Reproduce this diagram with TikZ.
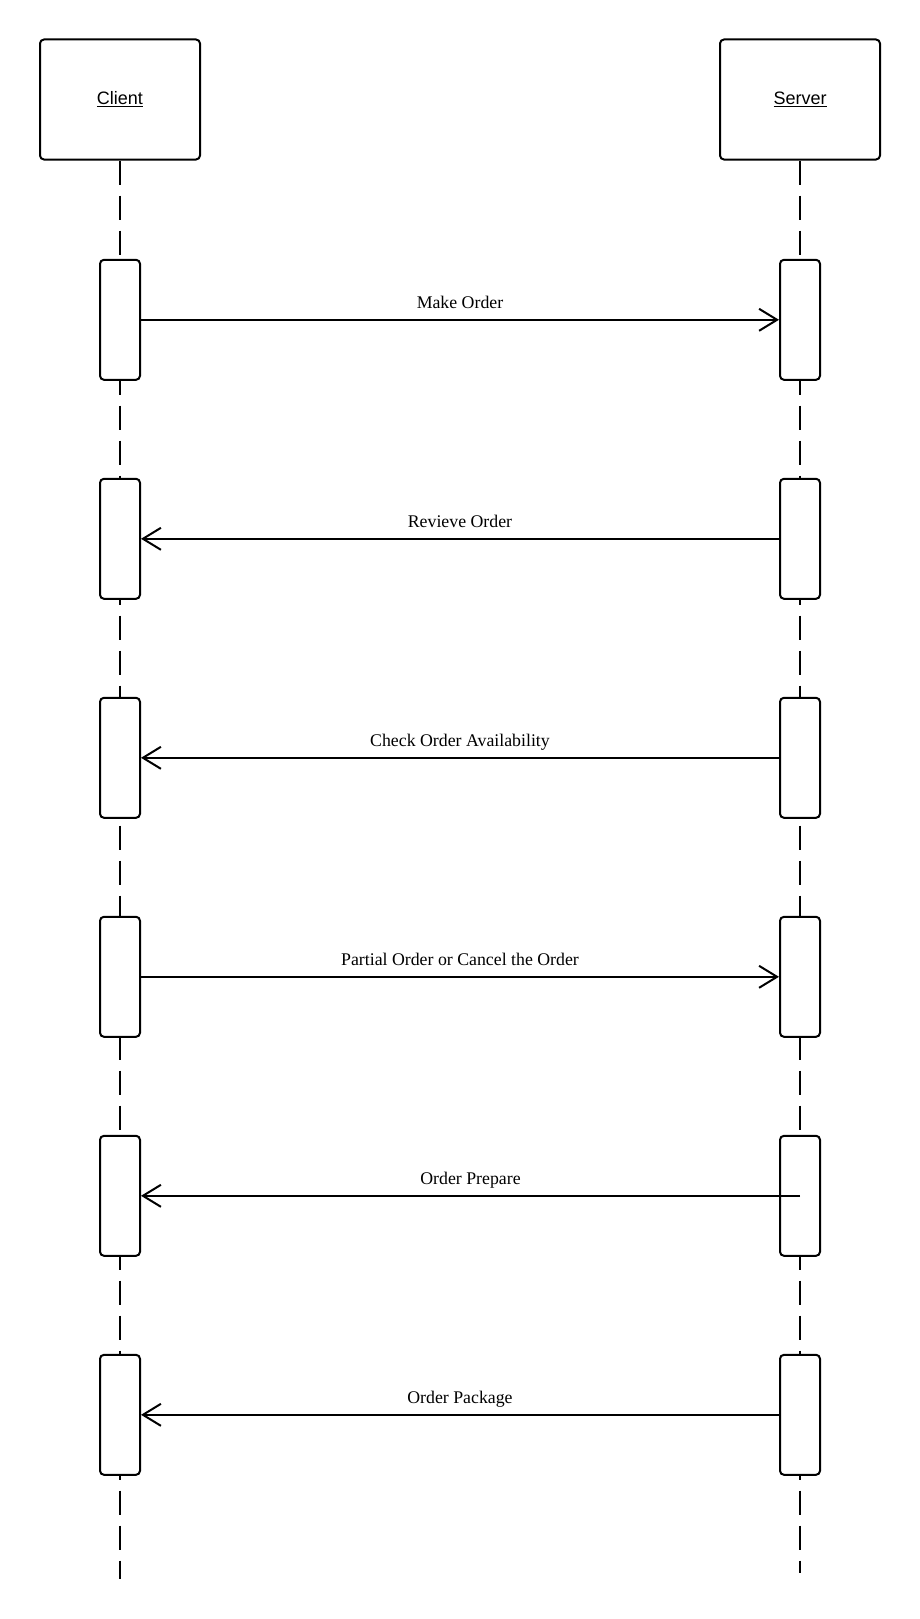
\documentclass[tikz,border=0pt]{standalone}
\usepackage{fontspec}
\setmainfont{Liberation Serif}
\newfontfamily\headfont{Liberation Sans}
\usetikzlibrary{arrows.meta}
\tikzset{
  actor/.style={draw, line width=2pt, rounded corners=4pt, fill=white,
    minimum width=160pt, minimum height=120pt, inner sep=0pt,
    font=\headfont\fontsize{18pt}{20pt}\selectfont},
  act/.style={draw, line width=2pt, rounded corners=4pt, fill=white,
    minimum width=40pt, minimum height=120pt, inner sep=0pt},
  lifeline/.style={line width=2pt, dash pattern=on 24pt off 11pt},
  msg/.style={line width=2pt, -{Straight Barb[length=18pt,width=22pt,line width=2pt]}},
  lbl/.style={midway, anchor=base, yshift=11pt, inner sep=0pt,
    font=\fontsize{17.8pt}{20pt}\selectfont}
}
\begin{document}
\begin{tikzpicture}[x=1pt,y=-1pt]
\useasboundingbox[fill=white] (0,0) rectangle (920,1619);
% lifeline ends
\coordinate (cend) at (120,1579);
\coordinate (send) at (800,1573);
% actors
\node[actor] (client) at (120,99.5) {\underline{Client}};
\node[actor] (server) at (800,99.5) {\underline{Server}};
% lifelines
\draw[lifeline] (client.south) -- (cend);
\draw[lifeline] (server.south) -- (send);
% activation boxes
\foreach \i/\y in {1/319.8,2/538.8,3/757.8,4/976.8,5/1195.8,6/1414.8}{
  \node[act] (c\i) at (120,\y) {};
  \node[act] (s\i) at (800,\y) {};
}
% messages
\draw[msg] (c1.east) -- (s1.west) node[lbl] {Make Order};
\draw[msg] (s2.west) -- (c2.east) node[lbl] {Revieve Order};
\draw[msg] (s3.west) -- (c3.east) node[lbl] {Check Order Availability};
\draw[msg] (c4.east) -- (s4.west) node[lbl] {Partial Order or Cancel the Order};
\draw[msg] (s5.center) -- (c5.east) node[lbl] {Order Prepare};
\draw[msg] (s6.west) -- (c6.east) node[lbl] {Order Package};
\end{tikzpicture}
\end{document}
